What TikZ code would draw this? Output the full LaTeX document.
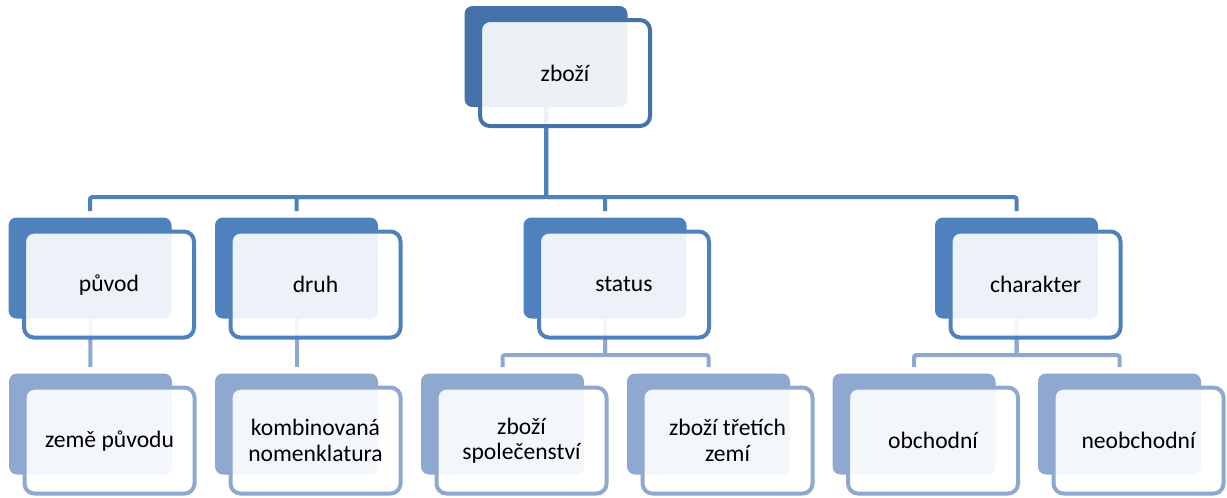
\documentclass[tikz,border=0pt]{standalone}
\usepackage{fontspec}
\setmainfont{Carlito}
\usetikzlibrary{backgrounds}
\definecolor{topblue}{HTML}{4672AC}
\definecolor{midblue}{HTML}{4F81BD}
\definecolor{lowblue}{HTML}{8EA8CF}
\tikzset{
  backbox/.style={fill=#1, rounded corners=6pt, minimum width=122.25pt, minimum height=75.75pt, inner sep=0pt},
  frontbox/.style={draw=#1, line width=3pt, fill=white, fill opacity=0.9, text opacity=1,
    rounded corners=7.5pt, minimum width=127.5pt, minimum height=79.5pt, inner sep=2pt,
    align=center, font=\fontsize{17.7}{19}\selectfont},
  link/.style={draw=#1, line width=3pt, rounded corners=1.5pt},
  front/.style={xshift=14.25pt, yshift=-12.4pt}
}
\begin{document}
\begin{tikzpicture}[x=0.75pt, y=-0.75pt]
    \useasboundingbox (0,0) rectangle (1227,497);
    % top
    \node[backbox=topblue] (b0) at (546,56.5) {};
    \node[frontbox=topblue] (zbozi) at ([front]b0.center) {zboží};
    % second row
    \node[backbox=midblue] (b1) at (90,268) {};
    \node[frontbox=midblue] (puvod) at ([front]b1.center) {původ};
    \node[backbox=midblue] (b2) at (296.5,268) {};
    \node[frontbox=midblue] (druh) at ([front]b2.center) {druh};
    \node[backbox=midblue] (b3) at (605,268) {};
    \node[frontbox=midblue] (status) at ([front]b3.center) {status};
    \node[backbox=midblue] (b4) at (1016.5,268) {};
    \node[frontbox=midblue] (charakter) at ([front]b4.center) {charakter};
    % third row
    \node[backbox=lowblue] (c1) at (90.5,424) {};
    \node[frontbox=lowblue] (zeme) at ([front]c1.center) {země původu};
    \node[backbox=lowblue] (c2) at (296.5,424) {};
    \node[frontbox=lowblue] (nomen) at ([front]c2.center) {kombinovaná\\nomenklatura};
    \node[backbox=lowblue] (c3) at (502.5,424) {};
    \node[frontbox=lowblue] (spol) at ([front]c3.center) {zboží\\společenství};
    \node[backbox=lowblue] (c4) at (708.5,424) {};
    \node[frontbox=lowblue] (treti) at ([front]c4.center) {zboží třetích\\zemí};
    \node[backbox=lowblue] (c5) at (914,424) {};
    \node[frontbox=lowblue] (obch) at ([front]c5.center) {obchodní};
    \node[backbox=lowblue] (c6) at (1119.5,424) {};
    \node[frontbox=lowblue] (neobch) at ([front]c6.center) {neobchodní};
    % connectors
    \begin{scope}[on background layer]
        \foreach \k in {b1,b2,b3,b4}
            \draw[link=midblue] (b0.center) |- ([yshift=15pt]\k.north) -- ([yshift=4.5pt]\k.north);
        \draw[link=lowblue] (b1.center) -- ([yshift=4.5pt]c1.north);
        \draw[link=lowblue] (b2.center) -- ([yshift=4.5pt]c2.north);
        \foreach \k in {c3,c4}
            \draw[link=lowblue] (b3.center) |- ([yshift=13.5pt]\k.north) -- ([yshift=4.5pt]\k.north);
        \foreach \k in {c5,c6}
            \draw[link=lowblue] (b4.center) |- ([yshift=13.5pt]\k.north) -- ([yshift=4.5pt]\k.north);
    \end{scope}
\end{tikzpicture}
\end{document}
